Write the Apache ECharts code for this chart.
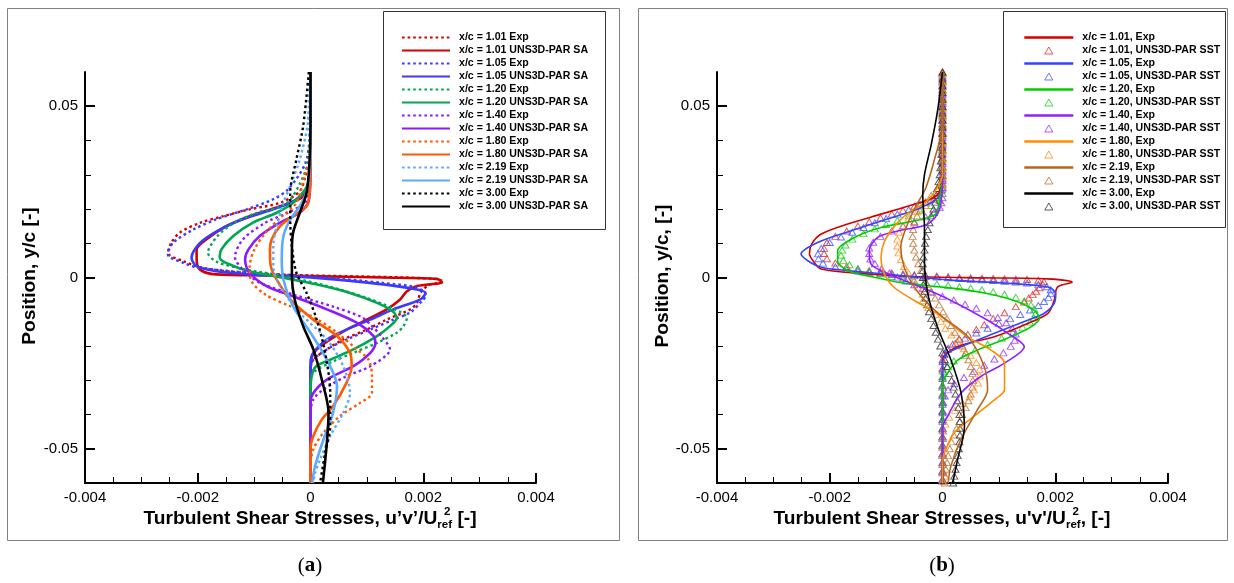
<!DOCTYPE html>
<html><head><meta charset="utf-8">
<script src="https://cdn.jsdelivr.net/npm/echarts@6/dist/echarts.min.js"></script>
<style>html,body{margin:0;padding:0;background:#fff}#c{width:1234px;height:583px}</style>
</head><body><div id="c"></div>
<script>
// ---------- tick labels ----------
const xTicks = [-0.004, -0.002, 0, 0.002, 0.004];
const xTickLabels = ['-0.004', '-0.002', '0', '0.002', '0.004'];
const yTicks = [-0.05, 0, 0.05];
const yTickLabels = ['-0.05', '0', '0.05'];
const yMinorTicks = [-0.04, -0.03, -0.02, -0.01, 0.01, 0.02, 0.03, 0.04];
const stations = ['1.01', '1.05', '1.20', '1.40', '1.80', '2.19', '3.00'];

// ---------- panel (a): [u'v'/Uref^2, y/c] ----------
const aExp101 = [[0,0.06],[0,0.045],[-0.00003,0.035],[-0.0001,0.029],[-0.0002,0.025],[-0.00054,0.0218],[-0.00108,0.0199],[-0.00155,0.0179],[-0.00195,0.016],[-0.00232,0.0131],[-0.00247,0.0101],[-0.00253,0.0072],[-0.00226,0.0048],[-0.0019,0.0028],[-0.0012,0.0014],[0,0.0006],[0.0012,0.0002],[0.0022,-0.0004],[0.00236,-0.0012],[0.0021,-0.0022],[0.00195,-0.0045],[0.00189,-0.0074],[0.00177,-0.0093],[0.00135,-0.0123],[0.001,-0.0152],[0.00058,-0.0181],[0.00029,-0.021],[0.00005,-0.024],[0,-0.026],[0,-0.06]];
const aSa101 = [[0,0.06],[0,0.04],[-0.00002,0.03],[-0.00013,0.0237],[-0.00054,0.0208],[-0.00108,0.0179],[-0.00149,0.015],[-0.00185,0.0111],[-0.00202,0.0082],[-0.00202,0.0053],[-0.00196,0.0023],[-0.00167,0.0009],[-0.00078,0.0006],[0,0.0004],[0.00129,0],[0.00224,-0.0004],[0.00233,-0.0014],[0.00189,-0.0025],[0.00171,-0.004],[0.00159,-0.0064],[0.00135,-0.0093],[0.001,-0.0123],[0.00064,-0.0152],[0.00035,-0.0181],[0.00011,-0.021],[0.00002,-0.0234],[0,-0.03],[0,-0.06]];
const aExp105 = [[0,0.06],[-0.00002,0.04],[-0.0001,0.033],[-0.0004,0.0257],[-0.00067,0.0228],[-0.00113,0.0199],[-0.00167,0.017],[-0.00208,0.014],[-0.00244,0.0101],[-0.00253,0.0067],[-0.00226,0.0043],[-0.00196,0.0028],[-0.00108,0.0014],[0.0001,0.0002],[0.00129,-0.0016],[0.0019,-0.003],[0.00205,-0.0052],[0.00198,-0.0068],[0.00177,-0.0102],[0.00147,-0.0123],[0.00106,-0.0152],[0.00064,-0.0181],[0.00029,-0.021],[0.00005,-0.024],[0,-0.027],[0,-0.06]];
const aSa105 = [[0,0.06],[0,0.035],[-0.00005,0.027],[-0.0002,0.0235],[-0.00036,0.0218],[-0.00066,0.0199],[-0.0012,0.017],[-0.00161,0.014],[-0.00196,0.0101],[-0.00211,0.0058],[-0.00202,0.0033],[-0.00167,0.0018],[-0.00108,0.0009],[0.0001,-0.0001],[0.00129,-0.002],[0.00189,-0.0035],[0.00204,-0.0045],[0.00195,-0.0064],[0.00147,-0.0093],[0.00106,-0.0123],[0.00064,-0.0152],[0.00029,-0.0181],[0.00005,-0.022],[0,-0.025],[0,-0.06]];
const aExp120 = [[0,0.06],[-0.00003,0.035],[-0.0002,0.027],[-0.00045,0.0213],[-0.00095,0.0189],[-0.00135,0.016],[-0.00165,0.0121],[-0.00182,0.0072],[-0.00165,0.0045],[-0.0012,0.0025],[-0.0005,0.0005],[0.0003,-0.0025],[0.001,-0.006],[0.00145,-0.009],[0.00171,-0.0118],[0.00165,-0.0142],[0.00153,-0.0161],[0.00118,-0.0191],[0.00076,-0.022],[0.00035,-0.0249],[0.00005,-0.0278],[0,-0.032],[0,-0.06]];
const aSa120 = [[0,0.06],[0,0.035],[-0.00005,0.027],[-0.00031,0.0218],[-0.0006,0.0189],[-0.00102,0.016],[-0.00137,0.0121],[-0.00158,0.0082],[-0.00161,0.0058],[-0.00143,0.0038],[-0.00108,0.0018],[-0.00048,-0.0001],[0.0001,-0.002],[0.0007,-0.0045],[0.00118,-0.0074],[0.00145,-0.0098],[0.00153,-0.0118],[0.00141,-0.0142],[0.00118,-0.0171],[0.00076,-0.021],[0.00035,-0.024],[0.0001,-0.0259],[0.00002,-0.0288],[0,-0.035],[0,-0.06]];
const aExp140 = [[0,0.06],[0,0.03],[-0.00003,0.025],[-0.0001,0.0218],[-0.0004,0.0189],[-0.0008,0.016],[-0.0012,0.0111],[-0.00134,0.006],[-0.0012,0.0023],[-0.0009,-0.0015],[-0.0003,-0.005],[0.0004,-0.0085],[0.0009,-0.0115],[0.00106,-0.0137],[0.00125,-0.017],[0.00141,-0.021],[0.00106,-0.0259],[0.00064,-0.0288],[0.00023,-0.0327],[0.00005,-0.0356],[0,-0.04],[0,-0.06]];
const aSa140 = [[0,0.06],[0,0.03],[-0.00002,0.0235],[-0.00005,0.0215],[-0.00019,0.0189],[-0.00054,0.016],[-0.0009,0.0121],[-0.0011,0.0082],[-0.00116,0.0053],[-0.00108,0.0014],[-0.00078,-0.0025],[-0.00031,-0.0055],[0.00029,-0.0093],[0.00082,-0.0132],[0.00112,-0.0171],[0.00115,-0.0191],[0.00106,-0.022],[0.00076,-0.0259],[0.00029,-0.0298],[0.00005,-0.0337],[0,-0.0365],[0,-0.06]];
const aExp180 = [[0,0.06],[0,0.035],[-0.0001,0.03],[-0.00025,0.0218],[-0.0005,0.018],[-0.0008,0.013],[-0.001,0.008],[-0.00108,0.003],[-0.00105,-0.001],[-0.0008,-0.005],[-0.00036,-0.0084],[0.0001,-0.012],[0.00047,-0.0161],[0.00082,-0.021],[0.00103,-0.024],[0.00109,-0.0288],[0.00109,-0.0337],[0.00088,-0.0366],[0.00052,-0.0405],[0.00023,-0.0453],[0.00005,-0.0502],[0,-0.055],[0,-0.06]];
const aSa180 = [[0,0.06],[0,0.03],[-0.00002,0.024],[-0.00007,0.0208],[-0.00031,0.0179],[-0.00054,0.015],[-0.00069,0.0111],[-0.00072,0.0072],[-0.0007,0.003],[-0.0006,-0.0006],[-0.00036,-0.0064],[0.00005,-0.0123],[0.00047,-0.0171],[0.0007,-0.022],[0.00073,-0.0259],[0.00064,-0.0307],[0.0004,-0.0376],[0.0002,-0.0415],[0.00005,-0.0463],[0,-0.05],[0,-0.06]];
const aExp219 = [[-0.00002,0.06],[-0.00005,0.045],[-0.00019,0.0345],[-0.00036,0.0267],[-0.00048,0.0218],[-0.0006,0.015],[-0.00066,0.0091],[-0.00066,0.0033],[-0.00054,-0.0025],[-0.00019,-0.0103],[0.00029,-0.0181],[0.00058,-0.0259],[0.0007,-0.0337],[0.00058,-0.0395],[0.00035,-0.0463],[0.00017,-0.0531],[0.00008,-0.0571],[0.00005,-0.06]];
const aSa219 = [[0,0.06],[0,0.04],[-0.00002,0.03],[-0.00007,0.025],[-0.00019,0.0208],[-0.00036,0.0169],[-0.00048,0.0121],[-0.00051,0.0053],[-0.00048,-0.0006],[-0.00031,-0.0084],[0,-0.0161],[0.00029,-0.024],[0.00047,-0.0317],[0.0004,-0.0395],[0.00023,-0.0473],[0.00008,-0.0551],[0.00003,-0.06]];
const aExp300 = [[-0.00003,0.06],[-0.00013,0.0442],[-0.00025,0.0345],[-0.00036,0.0247],[-0.00036,0.0169],[-0.00033,0.0091],[-0.00025,0.0014],[-0.00007,-0.0045],[0.00011,-0.0123],[0.00026,-0.022],[0.00035,-0.0337],[0.00035,-0.0434],[0.00026,-0.0512],[0.00017,-0.06]];
const aSa300 = [[0,0.06],[0,0.045],[-0.00002,0.033],[-0.00007,0.0247],[-0.00019,0.0189],[-0.00031,0.013],[-0.00033,0.0072],[-0.00033,0.0004],[-0.00028,-0.0064],[-0.00013,-0.0142],[0.00005,-0.021],[0.0002,-0.0298],[0.00032,-0.0395],[0.00029,-0.0483],[0.00022,-0.06]];

// ---------- panel (b) ----------
const bExp101 = [[0,0.06],[0,0.03],[-0.00005,0.025],[-0.0002,0.023],[-0.0005,0.0214],[-0.00109,0.0185],[-0.00168,0.0156],[-0.00215,0.0127],[-0.00232,0.0098],[-0.00236,0.0069],[-0.00228,0.0045],[-0.00215,0.0025],[-0.00139,0.0011],[-0.0005,0.0003],[0.00068,-0.0001],[0.00187,-0.0004],[0.0023,-0.0014],[0.00204,-0.0028],[0.00198,-0.0067],[0.00187,-0.0105],[0.00151,-0.0134],[0.00092,-0.0173],[0.00045,-0.0192],[0.00015,-0.0212],[0,-0.024],[0,-0.06]];
const bExp105 = [[0,0.06],[0,0.03],[-0.00005,0.024],[-0.00038,0.0204],[-0.00109,0.0165],[-0.0018,0.0127],[-0.00227,0.0098],[-0.00251,0.0069],[-0.00239,0.0049],[-0.00215,0.003],[-0.00168,0.002],[-0.00109,0.0011],[0.00009,-0.0007],[0.00127,-0.0018],[0.00187,-0.0028],[0.00201,-0.0047],[0.00198,-0.0076],[0.0018,-0.0105],[0.00151,-0.0125],[0.00092,-0.0163],[0.00033,-0.0202],[0.00009,-0.0221],[0,-0.025],[0,-0.06]];
const bExp120 = [[0,0.06],[0,0.03],[-0.00005,0.023],[-0.00012,0.0185],[-0.0005,0.0165],[-0.00109,0.0146],[-0.00156,0.0117],[-0.00186,0.0078],[-0.00186,0.0049],[-0.00168,0.002],[-0.00121,0.0001],[-0.00062,-0.0018],[0,-0.0028],[0.00068,-0.0043],[0.00127,-0.0067],[0.00163,-0.0096],[0.00172,-0.012],[0.00157,-0.0144],[0.00121,-0.0173],[0.00062,-0.0212],[0.00027,-0.0241],[0.00009,-0.0279],[0,-0.031],[0,-0.06]];
const bExp140 = [[0,0.06],[0,0.03],[-0.00005,0.02],[-0.00026,0.0156],[-0.00079,0.0136],[-0.00115,0.0117],[-0.0013,0.0078],[-0.00127,0.004],[-0.00097,0.0011],[-0.00038,-0.0028],[0.00015,-0.0067],[0.0008,-0.0125],[0.00116,-0.0163],[0.00145,-0.0202],[0.0011,-0.025],[0.00068,-0.0289],[0.00033,-0.0337],[0.00009,-0.0405],[0,-0.044],[0,-0.06]];
const bExp180 = [[0,0.06],[0,0.03],[-0.0001,0.026],[-0.0003,0.022],[-0.0006,0.019],[-0.00085,0.015],[-0.00103,0.0105],[-0.00109,0.006],[-0.00103,0.001],[-0.00085,-0.003],[-0.0005,-0.0067],[-0.0001,-0.0105],[0.00045,-0.0174],[0.00086,-0.0212],[0.0011,-0.025],[0.0011,-0.0328],[0.00092,-0.0357],[0.00056,-0.0405],[0.00021,-0.0453],[0.00006,-0.0501],[0,-0.054],[0,-0.06]];
const bExp219 = [[0,0.06],[0,0.045],[-0.00015,0.034],[-0.0003,0.026],[-0.00045,0.0215],[-0.00062,0.0156],[-0.00074,0.0088],[-0.00068,0.003],[-0.0005,-0.0028],[-0.00026,-0.0076],[0,-0.0115],[0.00045,-0.0173],[0.00074,-0.026],[0.0008,-0.0328],[0.00062,-0.0386],[0.00033,-0.0472],[0.00015,-0.055],[0.0001,-0.06]];
const bExp300 = [[0,0.06],[-0.00009,0.0484],[-0.0002,0.0388],[-0.00032,0.03],[-0.00035,0.0242],[-0.00032,0.0146],[-0.00032,0.0049],[-0.00026,-0.0047],[-0.00009,-0.0144],[0.00015,-0.0241],[0.00033,-0.0337],[0.00039,-0.0434],[0.00027,-0.053],[0.00018,-0.06]];

const bSst101 = [[0,0.06],[0,0.0575],[0,0.055],[0,0.0525],[0,0.05],[0,0.0475],[0,0.045],[0,0.0425],[0,0.04],[0,0.0375],[0,0.035],[0,0.0325],[0,0.03],[0,0.0275],[-0.00002,0.0255],[-0.00005,0.0245],[-0.00015,0.0232],[-0.0003,0.022],[-0.0005,0.0208],[-0.0007,0.0196],[-0.0009,0.0185],[-0.0011,0.0174],[-0.0013,0.0163],[-0.0015,0.015],[-0.0017,0.0136],[-0.0019,0.012],[-0.00205,0.0102],[-0.0021,0.0085],[-0.0021,0.007],[-0.00205,0.0055],[-0.0019,0.0042],[-0.0017,0.0032],[-0.0015,0.0025],[-0.0013,0.002],[-0.0011,0.0016],[-0.0009,0.0013],[-0.0007,0.001],[-0.0005,0.0008],[-0.0003,0.0006],[-0.0001,0.0004],[0.0001,0.0002],[0.0003,0],[0.0005,-0.0001],[0.0007,-0.0002],[0.0009,-0.0003],[0.0011,-0.0004],[0.0013,-0.0005],[0.0015,-0.0006],[0.0017,-0.0008],[0.0018,-0.0012],[0.00178,-0.002],[0.00172,-0.003],[0.00166,-0.004],[0.0016,-0.005],[0.00153,-0.006],[0.00145,-0.0072],[0.0013,-0.0085],[0.0011,-0.0103],[0.0009,-0.012],[0.00074,-0.0138],[0.0006,-0.0152],[0.00045,-0.0166],[0.0003,-0.018],[0.00018,-0.0195],[0.00009,-0.021],[0.00003,-0.0225],[0,-0.024],[0,-0.0265],[0,-0.029],[0,-0.0315],[0,-0.034],[0,-0.0365],[0,-0.039],[0,-0.0415],[0,-0.044],[0,-0.0465],[0,-0.049],[0,-0.0515],[0,-0.054],[0,-0.0565],[0,-0.059]];
const bSst105 = [[0,0.0588],[0,0.0563],[0,0.0538],[0,0.0513],[0,0.0488],[0,0.0463],[0,0.0438],[0,0.0413],[0,0.0388],[0,0.0363],[0,0.0338],[0,0.0313],[0,0.0288],[0,0.0263],[-0.00005,0.0245],[-0.0002,0.0228],[-0.0004,0.0212],[-0.0006,0.0198],[-0.0008,0.0185],[-0.001,0.0172],[-0.0012,0.016],[-0.0014,0.0146],[-0.0016,0.0132],[-0.0018,0.0118],[-0.002,0.0102],[-0.00215,0.0085],[-0.00221,0.0069],[-0.0022,0.0055],[-0.00212,0.0042],[-0.0019,0.0031],[-0.0017,0.0024],[-0.0015,0.0019],[-0.0013,0.0015],[-0.0011,0.0012],[-0.0009,0.0009],[-0.0007,0.0007],[-0.0005,0.0005],[-0.0003,0.0003],[-0.0001,0.0001],[0.0001,-0.0001],[0.0003,-0.0003],[0.0005,-0.0005],[0.0007,-0.0007],[0.0009,-0.0009],[0.0011,-0.0011],[0.0013,-0.0013],[0.0015,-0.0016],[0.0017,-0.002],[0.00185,-0.0027],[0.00192,-0.0036],[0.00192,-0.0047],[0.00188,-0.0058],[0.0018,-0.007],[0.0017,-0.0082],[0.00155,-0.0095],[0.00138,-0.0108],[0.0012,-0.012],[0.001,-0.0134],[0.0008,-0.0148],[0.0006,-0.0162],[0.0004,-0.0177],[0.00023,-0.0192],[0.0001,-0.0207],[0.00003,-0.0222],[0,-0.0245],[0,-0.027],[0,-0.0295],[0,-0.032],[0,-0.0345],[0,-0.037],[0,-0.0395],[0,-0.042],[0,-0.0445],[0,-0.047],[0,-0.0495],[0,-0.052],[0,-0.0545],[0,-0.057],[0,-0.0595]];
const bSst120 = [[0,0.0595],[0,0.057],[0,0.0545],[0,0.052],[0,0.0495],[0,0.047],[0,0.0445],[0,0.042],[0,0.0395],[0,0.037],[0,0.0345],[0,0.032],[0,0.0295],[0,0.027],[0,0.0245],[-0.00005,0.0225],[-0.0002,0.021],[-0.0004,0.0195],[-0.0006,0.018],[-0.0008,0.0167],[-0.001,0.0155],[-0.0012,0.0142],[-0.0014,0.0128],[-0.0016,0.0112],[-0.00172,0.0095],[-0.00178,0.008],[-0.0018,0.0065],[-0.00176,0.005],[-0.00165,0.0037],[-0.0015,0.0026],[-0.0013,0.0017],[-0.0011,0.001],[-0.0009,0.0003],[-0.0007,-0.0003],[-0.0005,-0.0009],[-0.0003,-0.0014],[-0.0001,-0.0019],[0.0001,-0.0023],[0.0003,-0.0027],[0.0005,-0.0031],[0.0007,-0.0036],[0.0009,-0.0042],[0.0011,-0.0049],[0.0013,-0.0058],[0.00145,-0.0068],[0.00157,-0.008],[0.00163,-0.0093],[0.00165,-0.0106],[0.00162,-0.0118],[0.00155,-0.013],[0.00142,-0.0145],[0.00125,-0.016],[0.00105,-0.0177],[0.0008,-0.0195],[0.00058,-0.0212],[0.00039,-0.0228],[0.0002,-0.0244],[0.00009,-0.026],[0.00002,-0.0275],[0,-0.029],[0,-0.0315],[0,-0.034],[0,-0.0365],[0,-0.039],[0,-0.0415],[0,-0.044],[0,-0.0465],[0,-0.049],[0,-0.0515],[0,-0.054],[0,-0.0565],[0,-0.059]];
const bSst140 = [[0,0.0583],[0,0.0558],[0,0.0533],[0,0.0508],[0,0.0483],[0,0.0458],[0,0.0433],[0,0.0408],[0,0.0383],[0,0.0358],[0,0.0333],[0,0.0308],[0,0.0283],[0,0.0258],[0,0.0233],[-0.00002,0.0218],[-0.00005,0.0205],[-0.00015,0.019],[-0.0003,0.0177],[-0.0005,0.0163],[-0.0007,0.015],[-0.0009,0.0136],[-0.0011,0.012],[-0.00123,0.0103],[-0.0013,0.0086],[-0.0013,0.007],[-0.00128,0.0054],[-0.0012,0.004],[-0.00108,0.0026],[-0.00094,0.0013],[-0.0008,0.0001],[-0.00065,-0.001],[-0.0005,-0.0021],[-0.00035,-0.0032],[-0.0002,-0.0043],[0,-0.0055],[0.0002,-0.0066],[0.0004,-0.0078],[0.0006,-0.009],[0.0008,-0.0103],[0.00098,-0.0117],[0.00113,-0.0132],[0.00124,-0.0148],[0.0013,-0.0165],[0.00128,-0.0183],[0.00121,-0.0201],[0.00108,-0.022],[0.00092,-0.0238],[0.00074,-0.0256],[0.00056,-0.0274],[0.00038,-0.0292],[0.00021,-0.031],[0.0001,-0.0328],[0.00004,-0.0346],[0.00001,-0.0364],[0,-0.039],[0,-0.0415],[0,-0.044],[0,-0.0465],[0,-0.049],[0,-0.0515],[0,-0.054],[0,-0.0565],[0,-0.059]];
const bSst180 = [[0,0.0592],[0,0.0567],[0,0.0542],[0,0.0517],[0,0.0492],[0,0.0467],[0,0.0442],[0,0.0417],[0,0.0392],[0,0.0367],[0,0.0342],[0,0.0317],[0,0.0292],[0,0.0267],[-0.00005,0.0245],[-0.00015,0.0228],[-0.0003,0.021],[-0.00045,0.0192],[-0.0006,0.0172],[-0.0007,0.0152],[-0.00077,0.0132],[-0.0008,0.0112],[-0.0008,0.0092],[-0.00078,0.0072],[-0.00074,0.0052],[-0.00068,0.0032],[-0.0006,0.0012],[-0.00052,-0.0008],[-0.00044,-0.0028],[-0.00035,-0.0048],[-0.00035,-0.0068],[-0.00025,-0.0088],[-0.00012,-0.0108],[-0.00003,-0.0128],[0.00005,-0.0148],[0.00016,-0.0168],[0.00027,-0.0188],[0.00038,-0.0208],[0.0005,-0.0228],[0.0006,-0.0248],[0.00066,-0.0268],[0.00066,-0.0288],[0.00063,-0.0308],[0.00056,-0.0328],[0.00048,-0.0348],[0.00036,-0.0368],[0.00022,-0.0388],[0.00012,-0.0408],[0.00005,-0.0428],[0.00001,-0.0448],[0,-0.047],[0,-0.0495],[0,-0.052],[0,-0.0545],[0,-0.057],[0,-0.0595]];
const bSst219 = [[0,0.0598],[0,0.0573],[0,0.0548],[0,0.0523],[0,0.0498],[0,0.0473],[0,0.0448],[0,0.0423],[0,0.0398],[0,0.0373],[0,0.0348],[0,0.0323],[0,0.0298],[-0.00003,0.028],[-0.0001,0.026],[-0.0002,0.024],[-0.0003,0.022],[-0.00038,0.02],[-0.00045,0.018],[-0.0005,0.016],[-0.00052,0.014],[-0.00053,0.012],[-0.00052,0.01],[-0.0005,0.008],[-0.00047,0.006],[-0.00043,0.004],[-0.00038,0.002],[-0.00033,0],[-0.00027,-0.002],[-0.0002,-0.004],[-0.00013,-0.006],[-0.00006,-0.008],[0.00001,-0.01],[0.00008,-0.012],[0.00015,-0.014],[0.00022,-0.016],[0.00029,-0.018],[0.00035,-0.02],[0.00041,-0.022],[0.00046,-0.024],[0.0005,-0.026],[0.00053,-0.028],[0.00054,-0.03],[0.00053,-0.032],[0.0005,-0.034],[0.00046,-0.036],[0.00041,-0.038],[0.00035,-0.04],[0.0003,-0.042],[0.00025,-0.044],[0.0002,-0.046],[0.00016,-0.048],[0.00013,-0.05],[0.0001,-0.052],[0.00008,-0.054],[0.00006,-0.056],[0.00005,-0.058],[0.00004,-0.06]];
const bSst300 = [[0,0.06],[0,0.058],[0,0.056],[0,0.054],[0,0.052],[0,0.05],[0,0.048],[0,0.046],[0,0.044],[0,0.042],[-0.00001,0.04],[-0.00001,0.038],[-0.00002,0.036],[-0.00003,0.034],[-0.00004,0.032],[-0.00005,0.03],[-0.00007,0.028],[-0.00009,0.026],[-0.00011,0.024],[-0.00013,0.022],[-0.00016,0.02],[-0.0002,0.018],[-0.00023,0.016],[-0.00026,0.014],[-0.00029,0.012],[-0.00031,0.01],[-0.00032,0.008],[-0.00034,0.006],[-0.00035,0.004],[-0.00035,0.002],[-0.00035,0],[-0.00034,-0.002],[-0.00032,-0.004],[-0.0003,-0.006],[-0.00027,-0.008],[-0.00024,-0.01],[-0.0002,-0.012],[-0.00016,-0.014],[-0.00012,-0.016],[-0.00008,-0.018],[-0.00004,-0.02],[0,-0.022],[0.00004,-0.024],[0.00008,-0.026],[0.00012,-0.028],[0.00016,-0.03],[0.0002,-0.032],[0.00023,-0.034],[0.00026,-0.036],[0.00028,-0.038],[0.0003,-0.04],[0.00031,-0.042],[0.00031,-0.044],[0.00031,-0.046],[0.0003,-0.048],[0.00029,-0.05],[0.00027,-0.052],[0.00025,-0.054],[0.00023,-0.056],[0.00021,-0.058],[0.00019,-0.06]];

// ---------- styling ----------
const FONT = "'Liberation Sans', Arial, Helvetica, sans-serif";
const aColors = ['#d40000', '#3b3bff', '#00a651', '#8c1aff', '#ff5a00', '#5aabff', '#000000'];
const bColors = ['#d40000', '#3344ff', '#00cc00', '#9020ff', '#ff8c00', '#b8661e', '#000000'];
const sstColors = ['#e03030', '#4455ff', '#22cc22', '#9a33ff', '#ff9020', '#c07030', '#333333'];

const aExp = [aExp101, aExp105, aExp120, aExp140, aExp180, aExp219, aExp300];
const aSa = [aSa101, aSa105, aSa120, aSa140, aSa180, aSa219, aSa300];
const bExp = [bExp101, bExp105, bExp120, bExp140, bExp180, bExp219, bExp300];
const bSst = [bSst101, bSst105, bSst120, bSst140, bSst180, bSst219, bSst300];

const hideSym = { opacity: 0, color: 'rgba(0,0,0,0)', borderWidth: 0 };
const series = [], legendA = [], legendB = [];
stations.forEach((st, i) => {
  const n1 = 'x/c = ' + st + ' Exp', n2 = 'x/c = ' + st + ' UNS3D-PAR SA';
  series.push({ type: 'line', name: n1, xAxisIndex: 0, yAxisIndex: 0, data: aExp[i], symbol: 'none', smooth: 0.3,
    lineStyle: { color: aColors[i], width: 2.4, type: [2.6, 3] }, itemStyle: { color: aColors[i] } });
  series.push({ type: 'line', name: n2, xAxisIndex: 0, yAxisIndex: 0, data: aSa[i], symbol: 'none', smooth: 0.3,
    lineStyle: { color: aColors[i], width: 2.6 }, itemStyle: { color: aColors[i] } });
  legendA.push({ name: n1, itemStyle: hideSym }, { name: n2, itemStyle: hideSym });
});
const triIcon = 'path://M5,0L10,8.66L0,8.66Z';
stations.forEach((st, i) => {
  const n1 = 'x/c = ' + st + ', Exp', n2 = 'x/c = ' + st + ', UNS3D-PAR SST';
  series.push({ type: 'line', name: n1, xAxisIndex: 1, yAxisIndex: 2, data: bExp[i], symbol: 'none', smooth: 0.3,
    lineStyle: { color: bColors[i], width: 1.6 }, itemStyle: { color: bColors[i] } });
  series.push({ type: 'scatter', name: n2, xAxisIndex: 1, yAxisIndex: 2, data: bSst[i], symbol: 'triangle', symbolSize: [7, 6],
    itemStyle: { color: 'rgba(0,0,0,0)', borderColor: sstColors[i], borderWidth: 1 } });
  legendB.push({ name: n1, lineStyle: { width: 2.6 }, itemStyle: hideSym },
    { name: n2, icon: triIcon, itemStyle: { color: 'rgba(0,0,0,0)', borderColor: sstColors[i], borderWidth: 1 } });
});

function lab(list, labels) {
  return v => { for (let k = 0; k < list.length; k++) if (Math.abs(list[k] - v) < 1e-9) return labels[k]; return ''; };
}
function xAxisDef(g) {
  return { type: 'value', gridIndex: g, min: -0.004, max: 0.004, interval: 0.002, position: 'bottom',
    axisLine: { onZero: false, lineStyle: { color: '#000', width: 2 } },
    axisTick: { inside: true, length: 10, lineStyle: { color: '#000', width: 2 } },
    minorTick: { show: true, splitNumber: 4, length: 6, lineStyle: { color: '#000', width: 1 } },
    splitLine: { show: false }, minorSplitLine: { show: false },
    axisLabel: { formatter: lab(xTicks, xTickLabels), color: '#000', fontSize: 15, fontFamily: FONT, margin: 7 } };
}
function yAxisMain(g) {
  return { type: 'value', gridIndex: g, min: -0.06, max: 0.06, position: 'left',
    axisLine: { onZero: false, lineStyle: { color: '#000', width: 2 } },
    axisTick: { inside: true, length: 10, customValues: yTicks, lineStyle: { color: '#000', width: 2 } },
    splitLine: { show: false },
    axisLabel: { customValues: yTicks, formatter: lab(yTicks, yTickLabels), color: '#000', fontSize: 15, fontFamily: FONT, margin: 7 } };
}
function yAxisMinor(g) {
  return { type: 'value', gridIndex: g, min: -0.06, max: 0.06, position: 'left',
    axisLine: { show: false, onZero: false },
    axisTick: { inside: true, length: 6, customValues: yMinorTicks, lineStyle: { color: '#000', width: 1 } },
    axisLabel: { show: false }, splitLine: { show: false } };
}

// ---------- text helpers ----------
const mctx = document.createElement('canvas').getContext('2d');
function tw(t, size) { mctx.font = 'bold ' + size + 'px ' + FONT; return mctx.measureText(t).width; }
function txt(x, y, s, size, bold, align, extra) {
  return Object.assign({ type: 'text', x: x, y: y, silent: true,
    style: { text: s, font: (bold ? 'bold ' : '') + size + 'px ' + FONT, fill: '#000', align: align || 'left', verticalAlign: 'middle' } }, extra || {});
}
function xTitle(cx, cy, pre, post) {
  const big = 19.2, small = 11.5;
  const w1 = tw(pre, big), w2 = tw('ref', small), w3 = tw(post, big);
  const x0 = cx - (w1 + w2 + w3) / 2;
  return [txt(x0, cy, pre, big, true), txt(x0 + w1, cy + 6, 'ref', small, true),
    txt(x0 + w1 + w2 * 0.45, cy - 7.5, '2', small, true), txt(x0 + w1 + w2, cy, post, big, true)];
}
function subLabel(cx, cy, letter) {
  return { type: 'text', x: cx, y: cy, silent: true,
    style: { text: '{p|(}{b|' + letter + '}{p|)}', align: 'center', verticalAlign: 'middle',
      rich: { p: { fontFamily: "'Liberation Serif', 'DejaVu Serif', serif", fontSize: 21, fill: '#000' },
              b: { fontFamily: "'Liberation Serif', 'DejaVu Serif', serif", fontSize: 21, fontWeight: 'bold', fill: '#000' } } } };
}
const rect = (x, y, w, h, c) => ({ type: 'rect', silent: true, z: -10, shape: { x: x, y: y, width: w, height: h }, style: { fill: 'none', stroke: c, lineWidth: 1 } });

const graphics = [
  rect(7.5, 8.5, 612, 532, '#808080'),
  rect(638.5, 8.5, 589, 532, '#808080'),
  rect(383.5, 11.5, 222, 218, '#333'),
  rect(1003.5, 11.5, 222, 216, '#333'),
  txt(30, 276, 'Position, y/c [-]', 19.2, true, 'center', { rotation: Math.PI / 2 }),
  txt(663, 276, 'Position, y/c, [-]', 19.2, true, 'center', { rotation: Math.PI / 2 }),
  ...xTitle(310, 519, 'Turbulent Shear Stresses, u\u2019v\u2019/U', ' [-]'),
  ...xTitle(942, 519, "Turbulent Shear Stresses, u'v'/U", ', [-]'),
  subLabel(310, 566, 'a'),
  subLabel(942, 566, 'b')
];

const legendText = { fontSize: 10.6, fontWeight: 'bold', fontFamily: FONT, color: '#000', lineHeight: 13, padding: [0, 0, 0, 4] };
const option = {
  animation: false,
  textStyle: { fontFamily: FONT },
  grid: [
    { left: 85, top: 72, width: 451, height: 411 },
    { left: 717, top: 72, width: 451, height: 411 }
  ],
  xAxis: [xAxisDef(0), xAxisDef(1)],
  yAxis: [yAxisMain(0), yAxisMinor(0), yAxisMain(1), yAxisMinor(1)],
  legend: [
    { orient: 'vertical', left: 401, top: 31, itemWidth: 48, itemHeight: 7, itemGap: 0, padding: 0,
      selectedMode: false, textStyle: legendText, data: legendA },
    { orient: 'vertical', left: 1023, top: 31, itemWidth: 49, itemHeight: 7, itemGap: 0, padding: 0,
      selectedMode: false, textStyle: legendText, data: legendB }
  ],
  graphic: graphics,
  series: series
};
const chart = echarts.init(document.getElementById('c'), null, { renderer: 'canvas' });
chart.setOption(option);
</script></body></html>
